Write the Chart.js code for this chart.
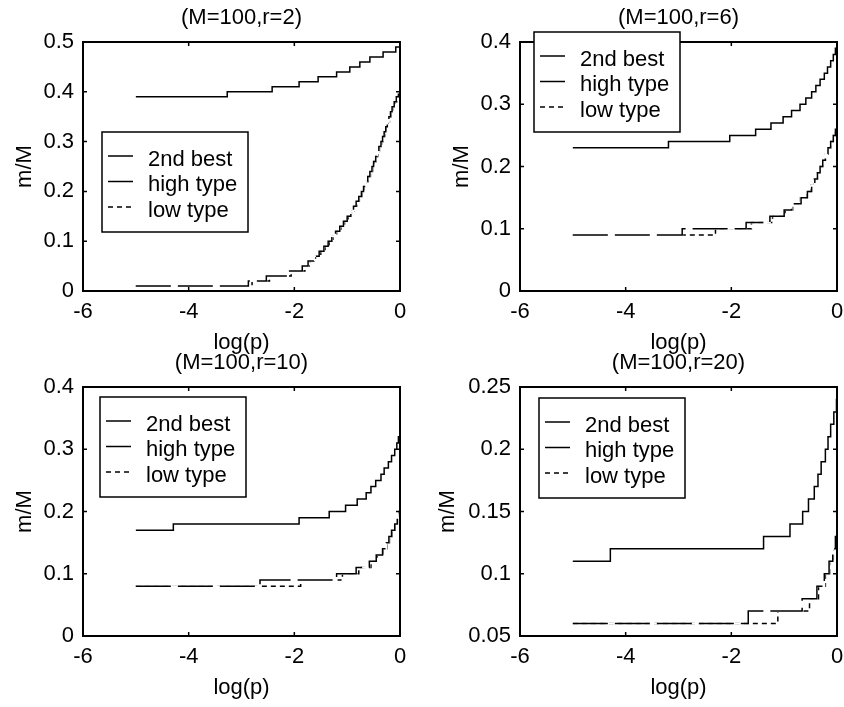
<!DOCTYPE html>
<html>
<head>
<meta charset="utf-8">
<script src="https://cdn.jsdelivr.net/npm/chart.js@4.4.0/dist/chart.umd.min.js"></script>
<style>
html,body{margin:0;padding:0;background:#fff;}
body{width:844px;height:707px;position:relative;overflow:hidden;}
canvas{position:absolute;}
</style>
</head>
<body>
<canvas id="c1" width="422" height="360" style="left:0px;top:0px"></canvas>
<canvas id="c2" width="407" height="360" style="left:437px;top:0px"></canvas>
<canvas id="c3" width="422" height="367" style="left:0px;top:340px"></canvas>
<canvas id="c4" width="407" height="367" style="left:437px;top:340px"></canvas>
<script>
// ---------------- data ----------------
const seriesLabels = ['2nd best', 'high type', 'low type'];
const xTickValues = [-6, -4, -2, 0];
const xTickLabels = ['-6', '-4', '-2', '0'];
const xAxisLabel = 'log(p)';
const yAxisLabel = 'm/M';

// (M=100, r=2)
const r2Title = '(M=100,r=2)';
const r2YTicks = [0, 0.1, 0.2, 0.3, 0.4, 0.5];
const r2YTickLabels = ['0', '0.1', '0.2', '0.3', '0.4', '0.5'];
const r2BestLogp = [-5, -3.27, -2.42, -1.91, -1.55, -1.20, -0.95, -0.76, -0.57, -0.32, -0.08, 0];
const r2BestM    = [0.39, 0.40, 0.41, 0.42, 0.43, 0.44, 0.45, 0.46, 0.47, 0.48, 0.49, 0.49];
const r2HighLogp = [-5, -2.87, -2.53, -2.12, -1.85, -1.74, -1.63, -1.53, -1.44, -1.36, -1.29, -1.22, -1.14, -1.07, -1.00, -0.93, -0.88, -0.83, -0.78, -0.73, -0.69, -0.65, -0.61, -0.57, -0.53, -0.50, -0.46, -0.43, -0.40, -0.36, -0.33, -0.30, -0.27, -0.24, -0.21, -0.18, -0.15, -0.11, -0.07, -0.03, 0];
const r2HighM    = [0.01, 0.02, 0.03, 0.04, 0.05, 0.06, 0.07, 0.08, 0.09, 0.10, 0.11, 0.12, 0.13, 0.14, 0.15, 0.16, 0.17, 0.18, 0.19, 0.20, 0.21, 0.22, 0.23, 0.24, 0.25, 0.26, 0.27, 0.28, 0.29, 0.30, 0.31, 0.32, 0.33, 0.34, 0.35, 0.36, 0.37, 0.38, 0.39, 0.40, 0.40];
const r2LowLogp  = [-5, -2.80, -2.47, -2.06, -1.80, -1.70, -1.60, -1.50, -1.42, -1.34, -1.27, -1.20, -1.12, -1.05, -0.98, -0.92, -0.87, -0.82, -0.77, -0.72, -0.68, -0.64, -0.60, -0.56, -0.52, -0.49, -0.45, -0.42, -0.39, -0.35, -0.32, -0.29, -0.26, -0.23, -0.20, -0.17, -0.14, -0.10, -0.06, -0.02, 0];
const r2LowM     = [0.01, 0.02, 0.03, 0.04, 0.05, 0.06, 0.07, 0.08, 0.09, 0.10, 0.11, 0.12, 0.13, 0.14, 0.15, 0.16, 0.17, 0.18, 0.19, 0.20, 0.21, 0.22, 0.23, 0.24, 0.25, 0.26, 0.27, 0.28, 0.29, 0.30, 0.31, 0.32, 0.33, 0.34, 0.35, 0.36, 0.37, 0.38, 0.39, 0.40, 0.40];

// (M=100, r=6)
const r6Title = '(M=100,r=6)';
const r6YTicks = [0, 0.1, 0.2, 0.3, 0.4];
const r6YTickLabels = ['0', '0.1', '0.2', '0.3', '0.4'];
const r6BestLogp = [-5, -3.19, -2.03, -1.54, -1.25, -1.02, -0.86, -0.70, -0.59, -0.48, -0.40, -0.32, -0.24, -0.18, -0.12, -0.07, -0.03, 0];
const r6BestM    = [0.23, 0.24, 0.25, 0.26, 0.27, 0.28, 0.29, 0.30, 0.31, 0.32, 0.33, 0.34, 0.35, 0.36, 0.37, 0.38, 0.39, 0.39];
const r6HighLogp = [-5, -2.93, -1.72, -1.27, -1.00, -0.86, -0.68, -0.56, -0.48, -0.42, -0.37, -0.32, -0.27, -0.22, -0.17, -0.12, -0.07, -0.03, 0];
const r6HighM    = [0.09, 0.10, 0.11, 0.12, 0.13, 0.14, 0.15, 0.16, 0.17, 0.18, 0.19, 0.20, 0.21, 0.22, 0.23, 0.24, 0.25, 0.26, 0.26];
const r6LowLogp  = [-5, -2.30, -1.62, -1.22, -0.98, -0.84, -0.69, -0.57, -0.49, -0.43, -0.37, -0.32, -0.27, -0.22, -0.17, -0.12, -0.07, -0.03, 0];
const r6LowM     = [0.09, 0.10, 0.11, 0.12, 0.13, 0.14, 0.15, 0.16, 0.17, 0.18, 0.19, 0.20, 0.21, 0.22, 0.23, 0.24, 0.25, 0.26, 0.26];

// (M=100, r=10)
const r10Title = '(M=100,r=10)';
const r10YTicks = [0, 0.1, 0.2, 0.3, 0.4];
const r10YTickLabels = ['0', '0.1', '0.2', '0.3', '0.4'];
const r10BestLogp = [-5, -4.29, -1.91, -1.34, -1.03, -0.81, -0.64, -0.55, -0.46, -0.36, -0.30, -0.22, -0.16, -0.10, -0.06, -0.03, 0];
const r10BestM    = [0.17, 0.18, 0.19, 0.20, 0.21, 0.22, 0.23, 0.24, 0.25, 0.26, 0.27, 0.28, 0.29, 0.30, 0.31, 0.32, 0.32];
const r10HighLogp = [-5, -2.65, -1.20, -0.83, -0.58, -0.45, -0.33, -0.26, -0.21, -0.16, -0.10, -0.05, -0.01, 0];
const r10HighM    = [0.08, 0.09, 0.10, 0.11, 0.12, 0.13, 0.14, 0.15, 0.16, 0.17, 0.18, 0.19, 0.20, 0.20];
const r10LowLogp  = [-5, -1.88, -1.09, -0.78, -0.55, -0.43, -0.32, -0.25, -0.20, -0.15, -0.09, -0.05, -0.01, 0];
const r10LowM     = [0.08, 0.09, 0.10, 0.11, 0.12, 0.13, 0.14, 0.15, 0.16, 0.17, 0.18, 0.19, 0.20, 0.20];

// (M=100, r=20)
const r20Title = '(M=100,r=20)';
const r20YTicks = [0.05, 0.1, 0.15, 0.2, 0.25];
const r20YTickLabels = ['0.05', '0.1', '0.15', '0.2', '0.25'];
const r20BestLogp = [-5, -4.29, -1.39, -0.89, -0.65, -0.54, -0.43, -0.36, -0.30, -0.22, -0.17, -0.12, -0.06, -0.01, 0];
const r20BestM    = [0.11, 0.12, 0.13, 0.14, 0.15, 0.16, 0.17, 0.18, 0.19, 0.20, 0.21, 0.22, 0.23, 0.24, 0.24];
const r20HighLogp = [-5, -1.68, -0.66, -0.38, -0.24, -0.15, -0.08, -0.03, 0];
const r20HighM    = [0.06, 0.07, 0.08, 0.09, 0.10, 0.11, 0.12, 0.13, 0.13];
const r20LowLogp  = [-5, -1.12, -0.52, -0.35, -0.22, -0.14, -0.07, -0.02, 0];
const r20LowM     = [0.06, 0.07, 0.08, 0.09, 0.10, 0.11, 0.12, 0.13, 0.13];

// ---------------- rendering ----------------
const FONT = '"Liberation Sans", Arial, Helvetica, sans-serif';
Chart.defaults.font.family = FONT;
Chart.defaults.font.size = 22;
Chart.defaults.color = '#000';

function pts(xs, ys) { return xs.map((x, i) => ({ x: x, y: ys[i] })); }

const framePlugin = {
  id: 'mframe',
  afterDatasetsDraw(chart) {
    const { ctx, chartArea: a, scales } = chart;
    ctx.save();
    ctx.strokeStyle = '#000';
    ctx.lineWidth = 2;
    ctx.strokeRect(a.left, a.top, a.right - a.left, a.bottom - a.top);
    ctx.lineWidth = 1.5;
    const tl = 4;
    ctx.beginPath();
    scales.x.ticks.forEach(t => {
      const p = scales.x.getPixelForValue(t.value);
      ctx.moveTo(p, a.bottom); ctx.lineTo(p, a.bottom - tl);
      ctx.moveTo(p, a.top); ctx.lineTo(p, a.top + tl);
    });
    scales.y.ticks.forEach(t => {
      const p = scales.y.getPixelForValue(t.value);
      ctx.moveTo(a.left, p); ctx.lineTo(a.left + tl, p);
      ctx.moveTo(a.right, p); ctx.lineTo(a.right - tl, p);
    });
    ctx.stroke();
    ctx.restore();
  }
};

// white underlay so the long-dash gaps are opaque (as in the original rendering)
const gapPlugin = {
  id: 'gapfill',
  beforeDatasetDraw(chart, args) {
    const ds = chart.data.datasets[args.index];
    if (!ds.gapFill) return;
    const p = args.meta.data;
    const ctx = chart.ctx, a = chart.chartArea;
    ctx.save();
    ctx.beginPath();
    ctx.rect(a.left, a.top, a.right - a.left, a.bottom - a.top);
    ctx.clip();
    ctx.strokeStyle = '#fff';
    ctx.lineWidth = ds.borderWidth + 0.5;
    ctx.beginPath();
    p.forEach((pt, i) => {
      if (i === 0) ctx.moveTo(pt.x, pt.y);
      else { ctx.lineTo(pt.x, p[i - 1].y); ctx.lineTo(pt.x, pt.y); }
    });
    ctx.stroke();
    ctx.restore();
  }
};

const legendPlugin = {
  id: 'mlegend',
  afterDraw(chart, args, o) {
    const a = chart.chartArea, ctx = chart.ctx;
    const x0 = Math.round(a.left + o.dx), y0 = Math.round(a.top + o.dy);
    ctx.save();
    ctx.fillStyle = '#fff';
    ctx.fillRect(x0, y0, o.w, o.h);
    ctx.strokeStyle = '#000';
    ctx.lineWidth = 1.5;
    ctx.strokeRect(x0, y0, o.w, o.h);
    chart.data.datasets.forEach((ds, i) => {
      const y = y0 + o.rows[i];
      ctx.setLineDash(ds.borderDash || []);
      ctx.lineWidth = ds.borderWidth;
      ctx.strokeStyle = ds.borderColor;
      ctx.beginPath();
      ctx.moveTo(x0 + 6, y);
      ctx.lineTo(x0 + 31, y);
      ctx.stroke();
      ctx.setLineDash([]);
      ctx.fillStyle = '#000';
      ctx.font = '22px ' + FONT;
      ctx.textBaseline = 'alphabetic';
      ctx.textAlign = 'left';
      ctx.fillText(ds.label, x0 + 46, y + 9.5);
    });
    ctx.restore();
  }
};

function makeChart(id, cfg) {
  const common = {
    borderColor: '#000', borderWidth: 1.5, pointRadius: 0, pointHoverRadius: 0,
    stepped: 'before', tension: 0, fill: false
  };
  new Chart(document.getElementById(id), {
    type: 'line',
    data: {
      datasets: [
        Object.assign({ label: seriesLabels[0], data: pts(cfg.best[0], cfg.best[1]) }, common),
        Object.assign({ label: seriesLabels[1], data: pts(cfg.high[0], cfg.high[1]), borderDash: [35, 7], gapFill: true }, common),
        Object.assign({ label: seriesLabels[2], data: pts(cfg.low[0], cfg.low[1]), borderDash: [5, 4] }, common)
      ]
    },
    options: {
      responsive: false,
      animation: false,
      devicePixelRatio: 1,
      events: [],
      layout: { padding: { left: 0, right: cfg.padRight, top: 0, bottom: 0 } },
      plugins: {
        legend: { display: false },
        tooltip: { enabled: false },
        title: { display: false },
        mlegend: { dx: cfg.legend[0], dy: cfg.legend[1], w: 146, h: 100, rows: [24, 49.5, 75] }
      },
      scales: {
        x: {
          type: 'linear', position: 'bottom', min: -6, max: 0,
          afterBuildTicks: s => { s.ticks = xTickValues.map(v => ({ value: v })); },
          afterFit: s => { s.height = cfg.xAxisH; s.paddingLeft = 0; s.paddingRight = 0; },
          grid: { display: false, drawTicks: false },
          border: { display: false },
          ticks: {
            padding: 10, maxRotation: 0, autoSkip: false,
            font: { size: 22, lineHeight: 1 },
            callback: (v, i) => xTickLabels[i]
          },
          title: { display: true, text: xAxisLabel, font: { size: 22, lineHeight: 1 }, padding: { top: 0, bottom: cfg.xTitleB } }
        },
        x2: {
          type: 'linear', position: 'top', min: -6, max: 0,
          afterFit: s => { s.height = cfg.topH; s.paddingLeft = 0; s.paddingRight = 0; },
          grid: { display: false, drawTicks: false },
          border: { display: false },
          ticks: { display: false },
          title: { display: true, text: cfg.title, font: { size: 22, lineHeight: 1 }, padding: { top: cfg.titleT, bottom: 0 } }
        },
        y: {
          type: 'linear', position: 'left', min: cfg.yTicks[0], max: cfg.yTicks[cfg.yTicks.length - 1],
          afterBuildTicks: s => { s.ticks = cfg.yTicks.map(v => ({ value: v })); },
          afterFit: s => { s.width = 83; s.paddingTop = 0; s.paddingBottom = 0; },
          grid: { display: false, drawTicks: false },
          border: { display: false },
          ticks: {
            padding: 9, autoSkip: false,
            font: { size: 22, lineHeight: 1 },
            callback: (v, i) => cfg.yLabels[i]
          },
          title: { display: true, text: yAxisLabel, font: { size: 22, lineHeight: 1 }, padding: { top: cfg.yTitleT, bottom: 0 } }
        }
      }
    },
    plugins: [gapPlugin, framePlugin, legendPlugin]
  });
}

makeChart('c1', {
  title: r2Title, yTicks: r2YTicks, yLabels: r2YTickLabels,
  best: [r2BestLogp, r2BestM], high: [r2HighLogp, r2HighM], low: [r2LowLogp, r2LowM],
  padRight: 22, topH: 42, titleT: 7, xAxisH: 69, xTitleB: 6, yTitleT: 14, legend: [19, 90]
});
makeChart('c2', {
  title: r6Title, yTicks: r6YTicks, yLabels: r6YTickLabels,
  best: [r6BestLogp, r6BestM], high: [r6HighLogp, r6HighM], low: [r6LowLogp, r6LowM],
  padRight: 7, topH: 42, titleT: 7, xAxisH: 69, xTitleB: 6, yTitleT: 14, legend: [14, -10]
});
makeChart('c3', {
  title: r10Title, yTicks: r10YTicks, yLabels: r10YTickLabels,
  best: [r10BestLogp, r10BestM], high: [r10HighLogp, r10HighM], low: [r10LowLogp, r10LowM],
  padRight: 22, topH: 47, titleT: 11.5, xAxisH: 71, xTitleB: 8, yTitleT: 14, legend: [17, 10]
});
makeChart('c4', {
  title: r20Title, yTicks: r20YTicks, yLabels: r20YTickLabels,
  best: [r20BestLogp, r20BestM], high: [r20HighLogp, r20HighM], low: [r20LowLogp, r20LowM],
  padRight: 7, topH: 47, titleT: 11.5, xAxisH: 71, xTitleB: 8, yTitleT: 0, legend: [19, 11]
});
</script>
</body>
</html>
